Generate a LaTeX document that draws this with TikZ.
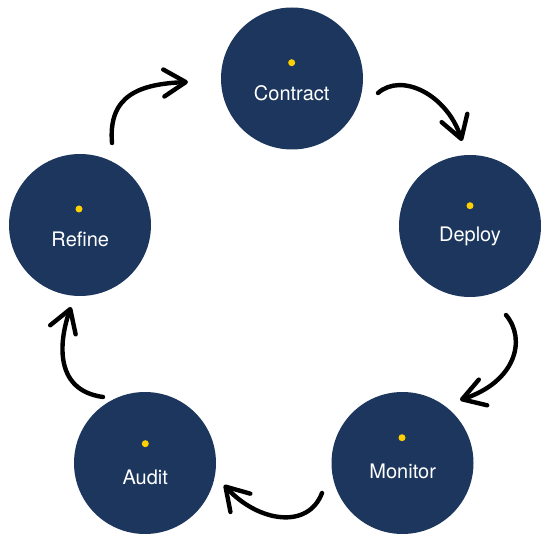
\documentclass[tikz,border=0pt]{standalone}
\usepackage{fontspec}
\setmainfont{TeX Gyre Heros}
\usetikzlibrary{arrows.meta,calc}
\definecolor{navy}{RGB}{28,54,93}
\definecolor{dotyellow}{RGB}{255,208,0}
\begin{document}
\begin{tikzpicture}[x=1pt,y=1pt,
  stage/.style={circle, fill=navy, minimum size=142pt, inner sep=0pt},
  lbl/.style={text=white, font=\fontsize{20}{22}\selectfont, anchor=base, inner sep=0pt},
  marker/.style={circle, fill=dotyellow, minimum size=7pt, inner sep=0pt},
  flow/.style={line width=4.4pt, line cap=round, -{Straight Barb[length=22pt,width=27pt,line cap=round,line join=round]}}]
\useasboundingbox (0,0) rectangle (550,550);
% circles
\node[stage] (contract) at (292,471.5) {};
\node[stage] (deploy) at (470,324) {};
\node[stage] (monitor) at (402.5,87) {};
\node[stage] (audit) at (145,87) {};
\node[stage] (refine) at (80,325) {};
% dots
\node[marker] (dc) at (291.7,487.3) {};
\node[marker] (dd) at (470,344.3) {};
\node[marker] (dm) at (402,112.3) {};
\node[marker] (da) at (145.3,106.3) {};
\node[marker] (dr) at (79,341) {};
% labels
\node[lbl] (lc) at (291.7,449) {Contract};
\node[lbl] (ld) at (470,308.3) {Deploy};
\node[lbl] (lm) at (402.7,71.3) {Monitor};
\node[lbl] (la) at (145.2,66) {Audit};
\node[lbl] (lr) at (80.3,303) {Refine};
% arrows
\draw[flow] ($(contract.center)+(86,-14.5)$) .. controls (402,478) and (447,455) .. ($(deploy.center)+(-8,85)$);
\draw[flow] ($(deploy.center)+(36,-89)$) .. controls (527,210) and (515,168) .. ($(monitor.center)+(57.5,63)$);
\draw[flow] ($(monitor.center)+(-80.5,-30)$) .. controls (308,20) and (258,28) .. ($(audit.center)+(79,-22)$);
\draw[flow] ($(audit.center)+(-42,66)$) .. controls (52,160) and (60,212) .. ($(refine.center)+(-9,-82)$);
\draw[flow] ($(refine.center)+(32,82)$) .. controls (108,455) and (140,466) .. ($(contract.center)+(-104,-3.5)$);
\end{tikzpicture}
\end{document}
